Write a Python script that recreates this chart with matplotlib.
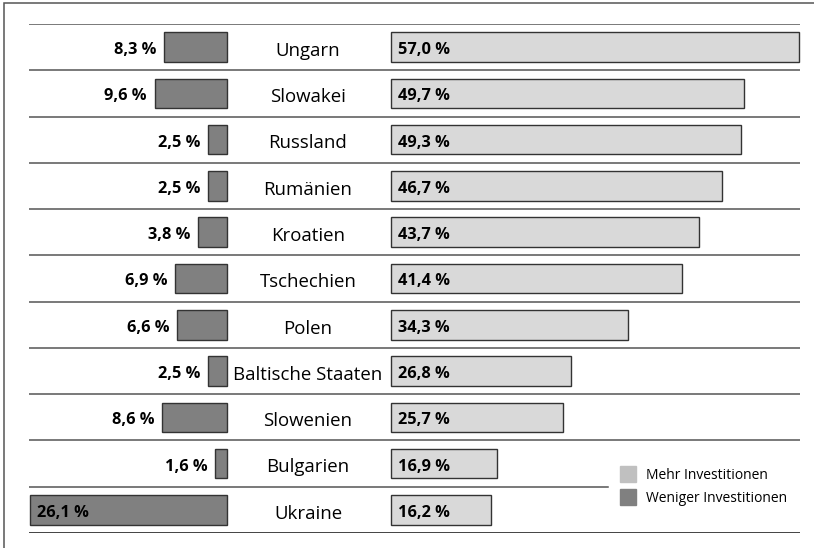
import matplotlib
matplotlib.use("Agg")
import matplotlib.pyplot as plt
from matplotlib.patches import Rectangle

plt.rcParams['font.family'] = ['Open Sans', 'DejaVu Sans']

# Daten
laender = ["Ungarn", "Slowakei", "Russland", "Rumänien", "Kroatien", "Tschechien",
           "Polen", "Baltische Staaten", "Slowenien", "Bulgarien", "Ukraine"]
mehr = [57.0, 49.7, 49.3, 46.7, 43.7, 41.4, 34.3, 26.8, 25.7, 16.9, 16.2]
weniger = [8.3, 9.6, 2.5, 2.5, 3.8, 6.9, 6.6, 2.5, 8.6, 1.6, 26.1]

W, H = 814, 548
fig = plt.figure(figsize=(W / 100, H / 100), dpi=100)

def box(x0, x1, y0, y1):
    # Pixelkoordinaten (von oben) -> Figure-Anteile
    return [x0 / W, 1 - y1 / H, (x1 - x0) / W, (y1 - y0) / H]

n = len(laender)
pos = list(range(n))
ylim = (n - 0.5, -0.5)
px = 7.55          # Pixel pro Prozentpunkt
start = 22 / px    # rechter Balken beginnt erst hinter der Laenderspalte

# Rahmen
fig.patches.append(Rectangle((4 / W, -0.1), 1.2, 1 - 3 / H + 0.1, transform=fig.transFigure,
                             fill=False, edgecolor="#555555", linewidth=1.1))

# Trennlinien
bg = fig.add_axes(box(29, 800, 24, 533))
bg.set_xlim(0, 1)
bg.set_ylim(*ylim)
bg.axis("off")
for i in range(n):
    y = i - 0.5
    xmax = 0.751 if i == n - 1 else 1
    bg.axhline(y, 0, xmax, color="#555555", linewidth=1.1)
bg.axhline(n - 0.5, 0, 1, color="#111111", linewidth=1.1)

for i, name in enumerate(laender):
    bg.text((308 - 29) / 771, i + 0.19, name, ha="center", va="baseline", fontsize=13.4)

# Weniger Investitionen (links)
axl = fig.add_axes(box(29, 227, 24, 533))
axl.barh(pos, weniger, height=0.64, color="#808080", edgecolor="#333333",
         linewidth=1, clip_on=False)
axl.set_xlim(198 / px, 0)
axl.set_ylim(*ylim)
axl.axis("off")
for i, v in enumerate(weniger):
    lab = f"{v:.1f} %".replace(".", ",")
    if v > 20:
        axl.text(v - 0.9, i + 0.15, lab, ha="left", va="baseline", fontsize=11.8, fontweight="bold")
    else:
        axl.text(v + 1.0, i + 0.15, lab, ha="right", va="baseline", fontsize=11.8, fontweight="bold")

# Mehr Investitionen (rechts)
axr = fig.add_axes(box(391, 800, 24, 533))
axr.barh(pos, [v - start for v in mehr], left=start, height=0.64, color="#d9d9d9",
         edgecolor="#333333", linewidth=1, clip_on=False)
axr.set_xlim(start, start + 409 / px)
axr.set_ylim(*ylim)
axr.axis("off")
for i, v in enumerate(mehr):
    lab = f"{v:.1f} %".replace(".", ",")
    axr.text(start + 0.95, i + 0.15, lab, ha="left", va="baseline", fontsize=11.8, fontweight="bold")

# Legende
for (y0, col, txt) in [(466, "#c0c0c0", "Mehr Investitionen"), (489, "#808080", "Weniger Investitionen")]:
    fig.patches.append(Rectangle((620 / W, 1 - (y0 + 16) / H), 16 / W, 16 / H,
                                 transform=fig.transFigure, color=col))
    fig.text(646 / W, 1 - (y0 + 13) / H, txt, ha="left", va="baseline", fontsize=10)

fig.savefig("out.png", dpi=100)
